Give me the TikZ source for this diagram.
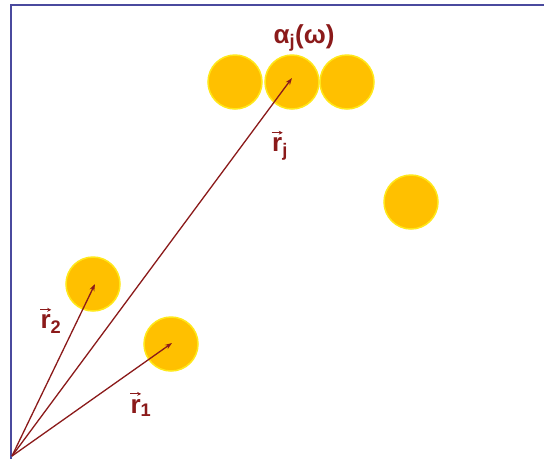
\documentclass[tikz,border=0pt]{standalone}
\usepackage{fontspec}
\setmainfont{Liberation Sans}
\usetikzlibrary{arrows.meta}
\definecolor{frame}{HTML}{4A4A9E}
\definecolor{gold}{HTML}{FFC000}
\definecolor{goldedge}{HTML}{FFE81A}
\definecolor{vecred}{HTML}{8B1A1A}
\tikzset{
  particle/.style={circle,fill=gold,draw=goldedge,line width=1.5pt,minimum size=54pt,inner sep=0pt},
  vecarrow/.style={draw=vecred,line width=1.3pt,-{Stealth[length=7pt,width=5pt]}},
  lbl/.style={text=vecred,font=\fontsize{26}{30}\selectfont\bfseries,inner sep=0pt},
}
\newcommand{\rv}[1]{{\ooalign{r\cr\hidewidth\raisebox{0.66em}{\tikz\draw[vecred,line width=0.9pt,-{Stealth[length=4pt,width=4pt]}] (0pt,0pt)--(11pt,0pt);}\hidewidth\cr}}\textsubscript{#1}}
\begin{document}
\begin{tikzpicture}[x=1pt,y=-1pt]
\useasboundingbox[fill=white] (0,0) rectangle (544,459);
\draw[frame,line width=2pt] (11,459) -- (11,5) -- (544,5);
\node[particle] (p1) at (235,82) {};
\node[particle] (pj) at (292,82) {};
\node[particle] (p3) at (347,82) {};
\node[particle] (p4) at (411,202) {};
\node[particle] (p2) at (93,284) {};
\node[particle] (pr1) at (171,344) {};
\coordinate (o) at (12,456);
\draw[vecarrow] (o) -- ([yshift=4pt]pj.center);
\draw[vecarrow] (o) -- ([xshift=2pt]p2.center);
\draw[vecarrow] (o) -- ([xshift=1pt,yshift=1pt]pr1.center);
\node[lbl] (a) at (304,38) {α\textsubscript{j}(ω)};
\node[lbl] (lj) at (280,149) {\rv{j}};
\node[lbl] (l2) at (51,324) {\rv{2}};
\node[lbl] (l1) at (141,408) {\rv{1}};
\end{tikzpicture}
\end{document}
